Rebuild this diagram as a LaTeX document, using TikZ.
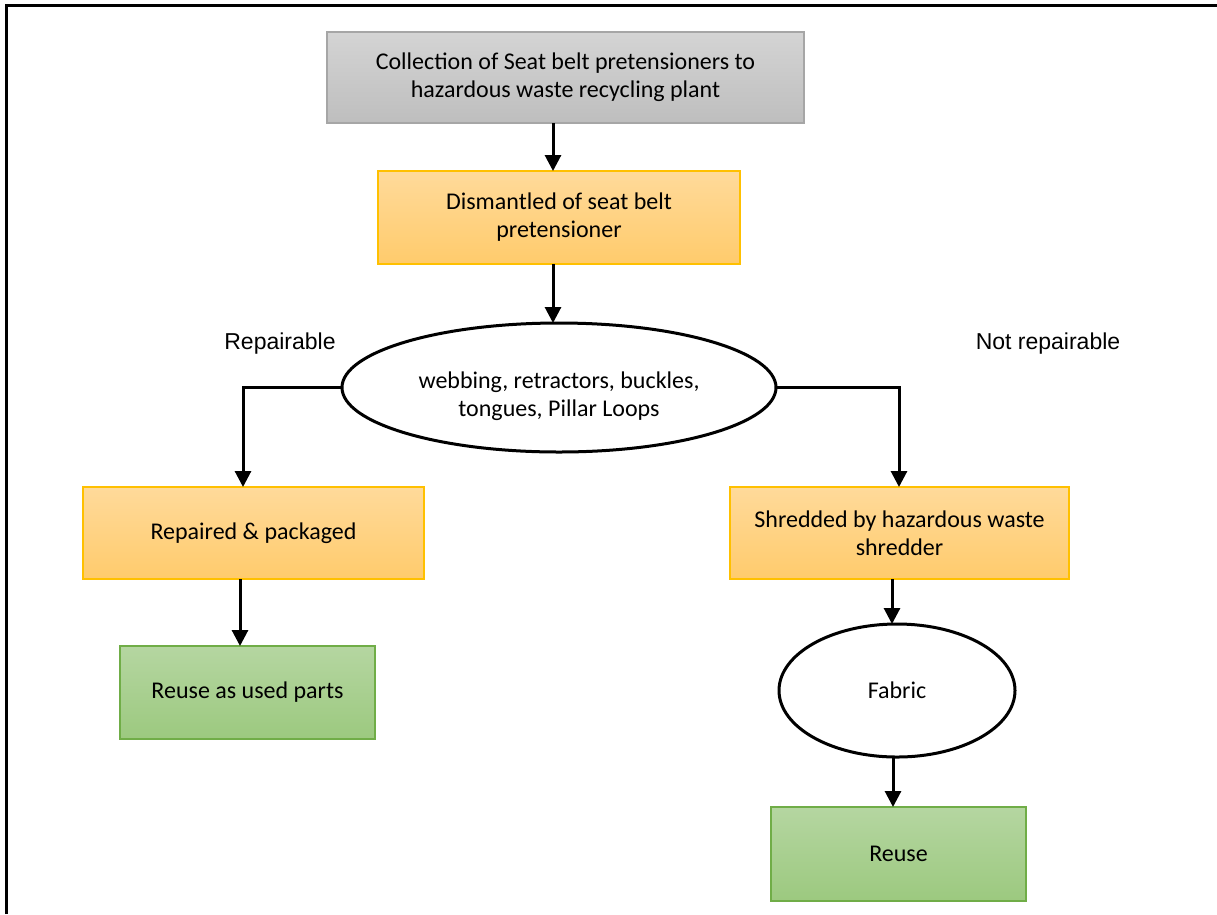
\documentclass[tikz,border=0pt]{standalone}
\usepackage{fontspec}
\setmainfont{Carlito}
\newfontfamily\labelfont{Liberation Sans}
\usetikzlibrary{arrows.meta,shapes.geometric}

\definecolor{grayTop}{HTML}{D4D4D4}
\definecolor{grayBot}{HTML}{BEBEBE}
\definecolor{grayLine}{HTML}{A6A6A6}
\definecolor{orTop}{HTML}{FFDA9A}
\definecolor{orBot}{HTML}{FFCB6C}
\definecolor{orLine}{HTML}{FFC000}
\definecolor{grTop}{HTML}{B5D6A1}
\definecolor{grBot}{HTML}{9CC97F}
\definecolor{grLine}{HTML}{70AD47}

\tikzset{
  boxtext/.style={align=center, font=\fontsize{24}{28}\selectfont},
  base/.style={boxtext, inner sep=0pt, outer sep=0pt, line width=1.5pt},
  graybox/.style={base, rectangle, draw=grayLine, top color=grayTop, bottom color=grayBot},
  orbox/.style={base, rectangle, draw=orLine, top color=orTop, bottom color=orBot},
  grbox/.style={base, rectangle, draw=grLine, top color=grTop, bottom color=grBot},
  oval/.style={base, ellipse, draw=black, fill=white, line width=3pt},
  arr/.style={line width=3pt, -{Triangle[width=16pt,length=16pt]}},
  branch/.style={font=\labelfont\fontsize{23}{27}\selectfont},
}

\begin{document}
\begin{tikzpicture}[x=1pt, y=-1pt]
  \useasboundingbox (0,0) rectangle (1217,914);
  % open frame along the top and left edges
  \draw[line width=3pt] (6,914) -- (6,5) -- (1217,5);

  \node[graybox, minimum width=477, minimum height=91] (collect) at (565.5,77.5)
    {Collection of Seat belt pretensioners to\\hazardous waste recycling plant};
  \node[orbox, minimum width=362, minimum height=93] (dismantle) at (559,217.5)
    {Dismantled of seat belt\\pretensioner};
  \node[oval, minimum width=434, minimum height=129,
    label={[boxtext, yshift=-9pt]center:{webbing, retractors, buckles,\\tongues, Pillar Loops}}]
    (parts) at (559,387.5) {};
  \node[orbox, minimum width=341, minimum height=92] (repair) at (253.5,533)
    {Repaired \& packaged};
  \node[orbox, minimum width=339, minimum height=92] (shred) at (899.5,533)
    {Shredded by hazardous waste\\shredder};
  \node[grbox, minimum width=255, minimum height=93] (usedparts) at (247.5,692.5)
    {Reuse as used parts};
  \node[oval, minimum width=236, minimum height=133] (fabric) at (897,690.5)
    {Fabric};
  \node[grbox, minimum width=255, minimum height=94] (reuse) at (898.5,854)
    {Reuse};

  \node[branch] (lblrep) at (280,344) {Repairable};
  \node[branch] (lblnot) at (1048,344) {Not repairable};

  \draw[arr] ([xshift=-12.5]collect.south) -- ([xshift=-6]dismantle.north);
  \draw[arr] ([xshift=-6]dismantle.south) -- ([xshift=-6]parts.north);
  \draw[arr] (parts.west) -| ([xshift=-10.5]repair.north);
  \draw[arr] (parts.east) -| ([xshift=-0.5]shred.north);
  \draw[arr] ([xshift=-13.5]repair.south) -- ([xshift=-7.5]usedparts.north);
  \draw[arr] ([xshift=-7.5]shred.south) -- ([xshift=-5]fabric.north);
  \draw[arr] ([xshift=-4]fabric.south) -- ([xshift=-5.5]reuse.north);
\end{tikzpicture}
\end{document}
